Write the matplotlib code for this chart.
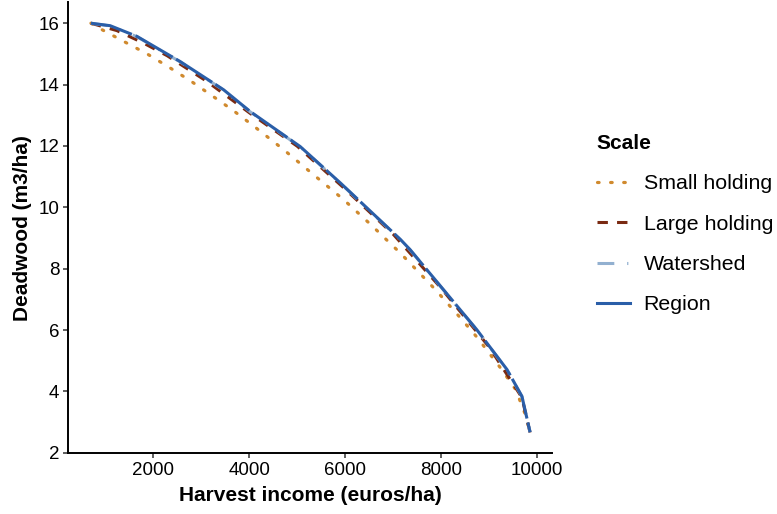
import numpy as np
import matplotlib
matplotlib.use("Agg")
import matplotlib.pyplot as plt
from matplotlib.lines import Line2D

plt.rcParams['font.family'] = ['Liberation Sans', 'DejaVu Sans']

# values
small_x = [700, 930, 1416, 1882, 2333, 2785, 3222, 3660, 4090, 4715, 5340, 5965,
           6556, 6938, 7146, 7875, 8396, 8757, 9236, 9550, 9750, 9850]
small_y = [16.0, 15.79, 15.38, 14.99, 14.56, 14.11, 13.64, 13.16, 12.65, 11.88, 11.06, 10.25,
           9.40, 8.82, 8.51, 7.32, 6.40, 5.74, 4.76, 4.06, 3.25, 2.67]

large_x = [700, 1240, 1800, 2290, 3120, 4020, 5000, 6000, 7000, 8000, 9000, 9680, 9850]
large_y = [16.0, 15.76, 15.35, 14.94, 14.10, 13.06, 11.99, 10.59, 9.12, 7.36, 5.44, 3.80, 2.66]

watershed_x = [700, 1100, 1660, 2560, 3465, 4020, 5060, 5900, 7150, 7350, 8740, 9370, 9680, 9850]
watershed_y = [16.0, 15.91, 15.56, 14.74, 13.82, 13.11, 11.97, 10.78, 8.94, 8.61, 6.00, 4.70, 3.83, 2.67]

region_x = [700, 1100, 1660, 2560, 3465, 4020, 5060, 5900, 7150, 7350, 8740, 9370, 9680, 9850]
region_y = [16.0, 15.92, 15.57, 14.75, 13.83, 13.12, 11.98, 10.79, 8.95, 8.62, 6.01, 4.71, 3.84, 2.67]

c_small = '#D08A2E'
c_large = '#7A2A12'
c_water = '#92B0D0'
c_region = '#2A5EA8'

ls_small = (0, (0.5, 3.6))
ls_large = (0, (3.4, 3.0))
ls_water = (0, (5.5, 4.2, 0.4, 4.2))
ls_region = (0, (14, 1.3))

fig = plt.figure(figsize=(7.77, 5.14), dpi=100)
ax = fig.add_axes([0.088, 0.118, 0.622, 0.878])

ax.plot(small_x, small_y, color=c_small, lw=2.3, linestyle=ls_small, dash_capstyle='round')
ax.plot(large_x, large_y, color=c_large, lw=2.2, linestyle=ls_large)
ax.plot(watershed_x, watershed_y, color=c_water, lw=2.2, linestyle=ls_water)
ax.plot(region_x, region_y, color=c_region, lw=2.2, linestyle=ls_region)

ax.set_xlim(230, 10300)
ax.set_ylim(1.98, 16.69)
ax.set_xticks([2000, 4000, 6000, 8000, 10000])
ax.set_yticks([2, 4, 6, 8, 10, 12, 14, 16])

for s in ['top', 'right']:
    ax.spines[s].set_visible(False)
for s in ['left', 'bottom']:
    ax.spines[s].set_linewidth(1.4)
    ax.spines[s].set_color('black')
ax.tick_params(axis='both', length=3.5, width=1.1, color='#333333',
               labelsize=13.5, labelcolor='black', pad=3)

ax.set_xlabel('Harvest income (euros/ha)', fontsize=15, fontweight='bold', labelpad=5)
ax.set_ylabel('Deadwood (m3/ha)', fontsize=15, fontweight='bold', labelpad=5)

handles = [
    Line2D([], [], color=c_small, lw=2.3, linestyle=ls_small, dash_capstyle='round'),
    Line2D([], [], color=c_large, lw=2.2, linestyle=ls_large),
    Line2D([], [], color=c_water, lw=2.2, linestyle=ls_water),
    Line2D([], [], color=c_region, lw=2.2),
]
labels = ['Small holding', 'Large holding', 'Watershed', 'Region']
leg = fig.legend(handles, labels, title='Scale', loc='upper left',
                 bbox_to_anchor=(0.743, 0.777), frameon=False,
                 fontsize=15.4, handlelength=1.55, labelspacing=1.0,
                 handletextpad=0.65, alignment='left')
leg.get_title().set_fontweight('bold')
leg.get_title().set_fontsize(15)

fig.savefig('out.png', dpi=100)
